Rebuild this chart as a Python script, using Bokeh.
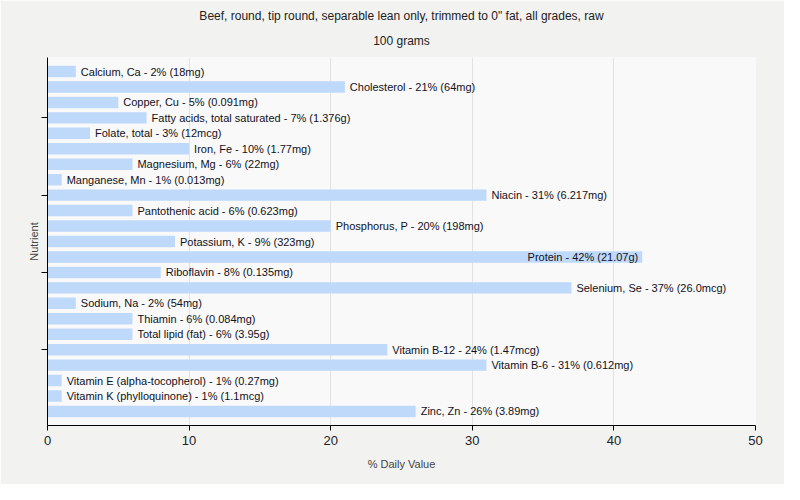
from bokeh.plotting import figure
from bokeh.models import ColumnDataSource, Range1d, FixedTicker, Title
from bokeh.embed import file_html
from bokeh.resources import INLINE

nutrients = [
    "Calcium, Ca", "Cholesterol", "Copper, Cu", "Fatty acids, total saturated",
    "Folate, total", "Iron, Fe", "Magnesium, Mg", "Manganese, Mn", "Niacin",
    "Pantothenic acid", "Phosphorus, P", "Potassium, K", "Protein", "Riboflavin",
    "Selenium, Se", "Sodium, Na", "Thiamin", "Total lipid (fat)", "Vitamin B-12",
    "Vitamin B-6", "Vitamin E (alpha-tocopherol)", "Vitamin K (phylloquinone)", "Zinc, Zn",
]
daily_value = [2, 21, 5, 7, 3, 10, 6, 1, 31, 6, 20, 9, 42, 8, 37, 2, 6, 6, 24, 31, 1, 1, 26]
amounts = [
    "18mg", "64mg", "0.091mg", "1.376g", "12mcg", "1.77mg", "22mg", "0.013mg", "6.217mg",
    "0.623mg", "198mg", "323mg", "21.07g", "0.135mg", "26.0mcg", "54mg", "0.084mg", "3.95g",
    "1.47mcg", "0.612mg", "0.27mg", "1.1mcg", "3.89mg",
]
x_ticks = [0, 10, 20, 30, 40, 50]
title_lines = ['Beef, round, tip round, separable lean only, trimmed to 0" fat, all grades, raw',
               "100 grams"]

n = len(nutrients)
ypos = list(range(n))
labels = [f"{a} - {v}% ({b})" for a, v, b in zip(nutrients, daily_value, amounts)]
inside = [v > 40 for v in daily_value]
out_src = ColumnDataSource(dict(
    x=[v for v, i in zip(daily_value, inside) if not i],
    y=[y for y, i in zip(ypos, inside) if not i],
    t=[t for t, i in zip(labels, inside) if not i],
))
in_src = ColumnDataSource(dict(
    x=[v for v, i in zip(daily_value, inside) if i],
    y=[y for y, i in zip(ypos, inside) if i],
    t=[t for t, i in zip(labels, inside) if i],
))
src = ColumnDataSource(dict(y=ypos, v=daily_value))

p = figure(width=784, height=484, output_backend="svg", toolbar_location=None,
           x_range=Range1d(0, 50), y_range=Range1d(n - 1 + 0.906, -0.906),
           min_border_left=47, min_border_right=29, min_border_top=57, min_border_bottom=59)
p.title.text = title_lines[0]
p.title.align = "center"
p.title.text_font = "Liberation Sans"
p.title.text_font_size = "12px"
p.title.text_font_style = "normal"
p.title.text_color = "#222222"
p.title.standoff = 0
sub_title = Title(text=title_lines[1], align="center", text_font="Liberation Sans",
                  text_font_size="12px", text_font_style="normal", text_color="#222222",
                  standoff=19)
p.add_layout(sub_title, "above")

p.background_fill_color = "#f9f9f9"
p.border_fill_color = "#f2f2f1"
p.outline_line_color = None

p.hbar(y="y", right="v", left=0, height=0.74, source=src, color="#bfd9fb", line_color=None)
p.text(x="x", y="y", text="t", source=out_src, x_offset=5, text_baseline="middle",
       text_align="left", text_font_size="11px", text_color="#111122",
       text_font={"value": "Liberation Sans"})
p.text(x="x", y="y", text="t", source=in_src, x_offset=-4, text_baseline="middle",
       text_align="right", text_font_size="11px", text_color="#111122",
       text_font={"value": "Liberation Sans"})

p.xaxis.ticker = FixedTicker(ticks=x_ticks)
p.xaxis.minor_tick_line_color = None
p.xaxis.major_tick_in = 0
p.xaxis.major_tick_out = 5
p.xaxis.major_label_text_font = "Liberation Sans"
p.xaxis.major_label_text_font_size = "13px"
p.xaxis.major_label_text_color = "#222222"
p.xaxis.axis_label = "% Daily Value"
p.xaxis.axis_label_text_font = "Liberation Sans"
p.xaxis.axis_label_text_font_size = "11px"
p.xaxis.axis_label_text_font_style = "normal"
p.xaxis.axis_label_standoff = 10
p.xaxis.axis_line_color = "black"

y_ticks = [3, 8, 13, 18]
p.yaxis.ticker = FixedTicker(ticks=y_ticks)
p.yaxis.major_label_overrides = {t: "" for t in y_ticks}
p.yaxis.minor_tick_line_color = None
p.yaxis.major_tick_in = 0
p.yaxis.major_tick_out = 6
p.yaxis.axis_label = "Nutrient"
p.yaxis.axis_label_text_font = "Liberation Sans"
p.yaxis.axis_label_text_font_size = "11px"
p.yaxis.axis_label_text_font_style = "normal"
p.yaxis.axis_label_standoff = 2
p.yaxis.axis_line_color = "black"

p.xgrid.grid_line_color = "#e2e2e2"
p.xgrid.ticker = FixedTicker(ticks=x_ticks)
p.ygrid.grid_line_color = None

open("out.html", "w").write(file_html(p, INLINE))
